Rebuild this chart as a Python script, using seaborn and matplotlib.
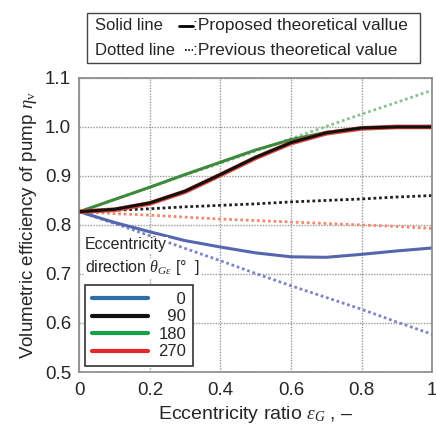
import matplotlib
matplotlib.use("Agg")
import matplotlib.pyplot as plt
from matplotlib.lines import Line2D
import pandas as pd
import seaborn as sns

# eccentricity ratio
eps = [0.0, 0.1, 0.2, 0.3, 0.4, 0.5, 0.6, 0.7, 0.8, 0.9, 1.0]

# proposed theoretical value (solid)
prop_0 = [0.827, 0.805, 0.786, 0.768, 0.755, 0.743, 0.735, 0.734, 0.740, 0.747, 0.753]
prop_90 = [0.827, 0.832, 0.845, 0.869, 0.903, 0.938, 0.968, 0.988, 0.998, 1.000, 1.000]
prop_180 = [0.827, 0.852, 0.877, 0.903, 0.928, 0.953, 0.974, 0.989, 0.997, 1.000, 1.000]
prop_270 = [0.827, 0.831, 0.844, 0.868, 0.902, 0.937, 0.967, 0.987, 0.997, 1.000, 1.000]

# previous theoretical value (dotted)
prev_0 = [0.827, 0.803, 0.778, 0.752, 0.727, 0.701, 0.676, 0.652, 0.628, 0.602, 0.577]
prev_90 = [0.827, 0.830, 0.833, 0.837, 0.840, 0.843, 0.847, 0.850, 0.853, 0.857, 0.860]
prev_180 = [0.827, 0.852, 0.877, 0.902, 0.926, 0.951, 0.976, 1.001, 1.026, 1.050, 1.075]
prev_270 = [0.827, 0.823, 0.820, 0.816, 0.812, 0.809, 0.806, 0.803, 0.800, 0.797, 0.793]

directions = ["0", "90", "180", "270"]
legend_colors = ["#2a6fa8", "#111111", "#16a04e", "#e8262a"]
solid_colors = ["#5566b0", "#111111", "#3d8a3d", "#e04a3a"]
dotted_colors = ["#7b86c4", "#222222", "#8cc08c", "#f08a70"]

rows = []
for d, p, q in zip(directions, [prop_0, prop_90, prop_180, prop_270],
                   [prev_0, prev_90, prev_180, prev_270]):
    for x, a, b in zip(eps, p, q):
        rows.append({"eps": x, "eta": a, "dir": d, "model": "Proposed"})
        rows.append({"eps": x, "eta": b, "dir": d, "model": "Previous"})
df = pd.DataFrame(rows)

sns.set_style("white")
plt.rcParams["font.family"] = ["Liberation Sans", "DejaVu Sans"]
plt.rcParams["mathtext.fontset"] = "custom"
plt.rcParams["mathtext.it"] = "Liberation Serif:italic"
plt.rcParams["mathtext.rm"] = "Liberation Serif"

fig = plt.figure(figsize=(4.36, 4.25), dpi=100)
ax = fig.add_axes([0.182, 0.1247, 0.809, 0.692])

# dotted (previous) first, then solid on top
for d in ["0", "270", "90", "180"]:
    i = directions.index(d)
    sub = df[(df["dir"] == d) & (df["model"] == "Previous")]
    sns.lineplot(data=sub, x="eps", y="eta", ax=ax, color=dotted_colors[i],
                 linestyle=(0, (1, 1)), linewidth=2.0, legend=False)
for d in ["0", "180", "270", "90"]:
    i = directions.index(d)
    sub = df[(df["dir"] == d) & (df["model"] == "Proposed")]
    lw = 2.2 if d != "270" else 3.4
    sns.lineplot(data=sub, x="eps", y="eta", ax=ax, color=solid_colors[i],
                 linewidth=lw, legend=False)

ax.set_xlim(0, 1)
ax.set_ylim(0.5, 1.1)
ax.set_xticks([0, 0.2, 0.4, 0.6, 0.8, 1.0])
ax.set_xticklabels(["0", "0.2", "0.4", "0.6", "0.8", "1"])
ax.set_yticks([0.5, 0.6, 0.7, 0.8, 0.9, 1.0, 1.1])
ax.set_yticklabels(["0.5", "0.6", "0.7", "0.8", "0.9", "1.0", "1.1"])
ax.tick_params(labelsize=13.5, length=0)
ax.tick_params(axis="y", pad=6)
ax.tick_params(axis="x", pad=7)
ax.grid(True, color="#999999", linestyle=(0, (1, 1)), linewidth=1.0)
for s in ax.spines.values():
    s.set_color("#888888")
    s.set_linewidth(1.2)

ax.set_xlabel(r"Eccentricity ratio $\varepsilon_{G}$ , –", fontsize=14, labelpad=4)
ax.set_ylabel(r"Volumetric efficiency of pump $\eta_{\mathrm{v}}$", fontsize=13.5, labelpad=4)

handles = [Line2D([0], [0], color=c, linewidth=3) for c in legend_colors]
labels = ["\u2007\u20070", "\u200790", "180", "270"]
leg = ax.legend(handles, labels, loc="lower left", bbox_to_anchor=(0.016, 0.02),
                borderaxespad=0, handlelength=3.4, handletextpad=0.6, fontsize=12,
                frameon=True, fancybox=False, borderpad=0.4, labelspacing=0.15,
                facecolor="white", edgecolor="#333333", framealpha=1)
leg.get_frame().set_linewidth(1.2)

ax.text(0.016, 0.432, "Eccentricity", transform=ax.transAxes, fontsize=11.5,
        ha="left", va="center", bbox=dict(facecolor="white", edgecolor="none", pad=0.5))
ax.text(0.016, 0.354, "direction $\\theta_{G\\varepsilon}$ [°  ]", transform=ax.transAxes,
        fontsize=11.5, ha="left", va="center",
        bbox=dict(facecolor="white", edgecolor="none", pad=0.5))

fig.text(0.218, 0.939, "Solid line", fontsize=12, ha="left", va="center")
fig.text(0.218, 0.882, "Dotted line", fontsize=12, ha="left", va="center")
fig.add_artist(Line2D([0.41, 0.443], [0.939, 0.939], color="black", linewidth=2))
fig.add_artist(Line2D([0.425, 0.443], [0.882, 0.882], color="black", linewidth=1.2,
                      linestyle=(0, (1, 1))))
fig.text(0.443, 0.939, ":Proposed theoretical vallue", fontsize=12.5, ha="left", va="center")
fig.text(0.443, 0.882, ":Previous theoretical value", fontsize=12.5, ha="left", va="center")
fig.add_artist(plt.Rectangle((0.1995, 0.8506), 0.764, 0.1195, transform=fig.transFigure,
                             fill=False, edgecolor="#444444", linewidth=1.0))

fig.savefig("out.png", dpi=100)
